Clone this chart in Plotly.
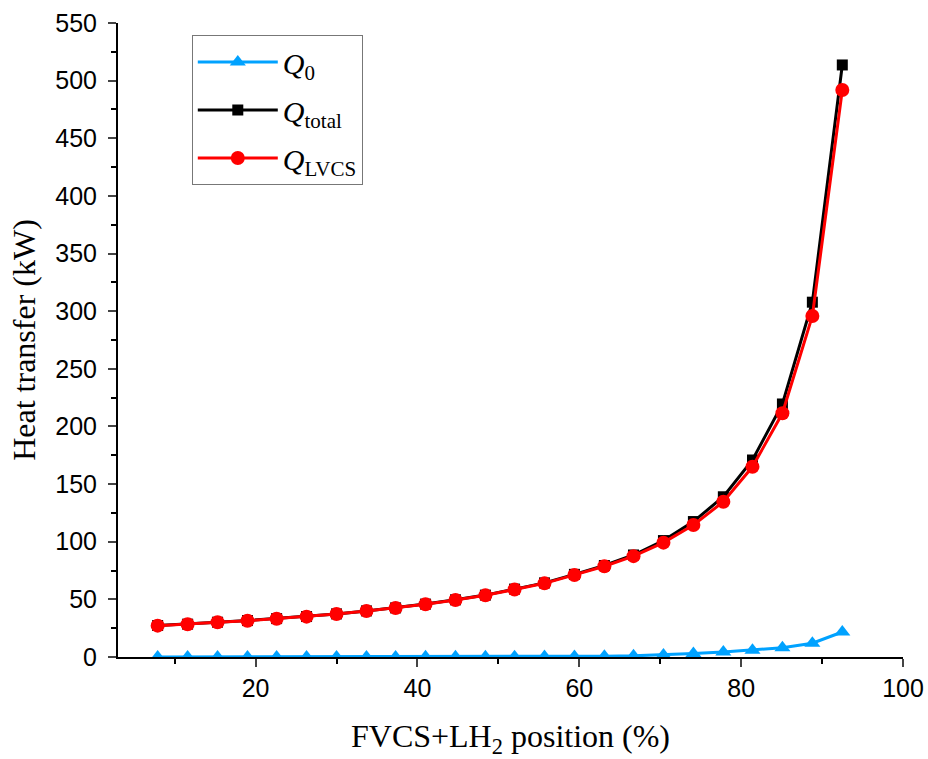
import plotly.graph_objects as go

x_pos = [7.9, 11.6, 15.3, 19.0, 22.6, 26.3, 30.0, 33.7, 37.3, 41.0, 44.7, 48.4,
         52.0, 55.7, 59.4, 63.1, 66.7, 70.4, 74.1, 77.8, 81.4, 85.1, 88.8, 92.5]
q0 = [0.1, 0.1, 0.1, 0.1, 0.1, 0.1, 0.1, 0.1, 0.1, 0.2, 0.2, 0.2,
      0.3, 0.4, 0.5, 0.7, 1.0, 1.8, 3.0, 4.3, 5.9, 8.1, 12.0, 21.7]
q_lvcs = [27.2, 28.4, 30.1, 31.5, 33.2, 35.0, 37.3, 39.9, 42.5, 45.7, 49.4, 53.5,
          58.6, 63.9, 71.2, 78.7, 87.5, 99.2, 114.5, 134.7, 165.0, 211.4, 295.8, 491.9]
q_total = [a + b for a, b in zip(q_lvcs, q0)]

names = ["<i>Q</i><sub>0</sub>", "<i>Q</i><sub>total</sub>", "<i>Q</i><sub>LVCS</sub>"]
x_ticks = [20, 40, 60, 80, 100]
y_ticks = list(range(0, 551, 50))

fig = go.Figure()
fig.add_trace(go.Scatter(x=x_pos, y=q0, name=names[0], mode="lines+markers", legendgroup="a",
                         line=dict(color="#00A2FF", width=3),
                         marker=dict(symbol="triangle-up", size=14, color="#00A2FF")))
fig.add_trace(go.Scatter(x=x_pos, y=q_total, name=names[1], mode="lines+markers", legendgroup="b",
                         line=dict(color="black", width=3),
                         marker=dict(symbol="square", size=11, color="black")))
fig.add_trace(go.Scatter(x=x_pos, y=q_lvcs, name=names[2], mode="lines+markers", legendgroup="c",
                         line=dict(color="#FF0000", width=3),
                         marker=dict(symbol="circle", size=14, color="#FF0000")))

axis_font = dict(family="Liberation Sans, Arial", size=25, color="black")
title_font = dict(family="Liberation Serif, Times New Roman", size=32, color="black")

fig.update_layout(
    width=928, height=759,
    margin=dict(l=118, r=25, t=23, b=102),
    paper_bgcolor="white", plot_bgcolor="white",
    showlegend=True,
    legend=dict(x=0.094, y=0.981, xanchor="left", yanchor="top",
                bordercolor="#777777", borderwidth=1, bgcolor="white",
                font=dict(family="Liberation Serif, Times New Roman", size=30, color="black"),
                tracegroupgap=6, itemwidth=80),
    xaxis=dict(range=[3, 100], tickvals=x_ticks, ticks="outside", ticklen=8, tickwidth=2,
               showline=True, linecolor="black", linewidth=2, showgrid=False, zeroline=False,
               tickfont=axis_font,
               minor=dict(dtick=10, tick0=0, ticks="outside", ticklen=5, tickwidth=2, tickcolor="black", showgrid=False),
               title=dict(text="FVCS+LH<sub>2</sub> position (%)", font=title_font, standoff=28),
               automargin=False),
    yaxis=dict(range=[0, 550], tickvals=y_ticks, ticks="outside", ticklen=8, tickwidth=2,
               showline=True, linecolor="black", linewidth=2, showgrid=False, zeroline=False,
               tickfont=axis_font, ticklabelstandoff=6,
               minor=dict(dtick=25, tick0=0, ticks="outside", ticklen=5, tickwidth=2, tickcolor="black", showgrid=False),
               title=dict(text="Heat transfer (kW)", font=title_font, standoff=10),
               automargin=False),
)

fig.write_html("out.html")
